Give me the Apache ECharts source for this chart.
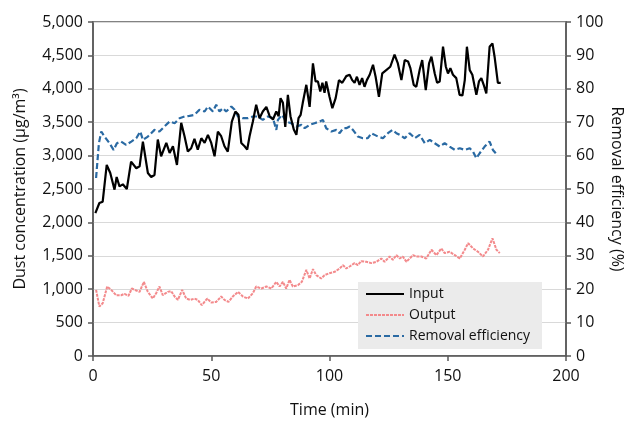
<!DOCTYPE html>
<html>
<head>
<meta charset="utf-8">
<script src="https://cdn.jsdelivr.net/npm/echarts@6/dist/echarts.min.js"></script>
<style>
  html, body { margin: 0; padding: 0; background: #fff; }
  #main { width: 625px; height: 425px; }
</style>
</head>
<body>
<div id="main"></div>
<script>
// time (min) and values
var inputTime = [1,2.7,4.1,5.8,7.3,9.1,10,11.2,12.6,14.3,16.1,18.3,19.7,21.1,23.2,24.6,26,27.4,28.8,31,32.4,33.8,35.5,37.3,38.7,40.1,41.5,42.9,44.3,45.8,47.2,48.6,50,51.4,52.8,54.2,55.6,57,58.7,60.2,61.5,62.7,64.1,65.2,66.2,67.6,69,70.4,71.8,73.3,74.7,76.1,77.5,78.5,79.3,80.3,81.3,82.4,83.5,84.9,86,86.9,87.8,88.7,90.2,91.6,93,94.1,95.1,96.1,97,97.9,98.6,100,101.2,102.6,104,105.4,107.1,108.5,109.6,110.6,111.6,112.7,113.8,114.8,115.8,117,118.4,119.5,120.9,122.3,124,125.7,127.5,128.9,130.4,131.8,133.2,134.2,135.6,136.7,138.1,139.2,140.7,142.1,143.1,144.5,145.5,146.6,148,149.2,150.1,151.1,152.2,153.6,155,156.2,157.2,158.1,159.3,160.4,161.4,162.1,163.2,164.2,165.2,166.3,167.7,168.9,169.8,171.2,172.4];
var inputValues = [2140,2290,2310,2860,2740,2490,2680,2540,2570,2500,2910,2810,2840,3210,2740,2680,2710,3240,2990,3190,3040,3140,2860,3490,3290,3060,3110,3250,3090,3260,3190,3310,3190,2990,3360,3290,3140,3060,3510,3660,3610,3190,3140,3090,3290,3510,3760,3560,3660,3730,3590,3540,3660,3590,3860,3790,3430,3910,3590,3390,3310,3560,3610,3790,4060,3730,4380,4110,4110,3960,4090,3940,4110,3880,3710,3860,4130,4090,4190,4210,4130,4090,4180,4060,4160,4030,4130,4210,4360,4180,3880,4230,4280,4330,4510,4380,4130,4430,4410,4310,4060,4030,4280,4430,3980,4380,4480,4230,4090,4110,4630,4330,4230,4310,4210,4160,3910,3900,4130,4630,4280,4210,4030,3910,4110,4160,4060,3930,4630,4680,4480,4090,4090];

var outputTime = [1.3,2.7,4.1,6,7.7,9.8,11.9,13.3,15,16.4,18.3,19.7,21.5,23.2,25.3,26.7,28.1,29.5,31.6,33.1,34.5,35.9,37.7,39.4,41.2,42.9,44.3,46,48.3,50,52.1,54.2,55.6,57.3,59.1,61.3,63.4,65.5,67.6,69,71.2,73.3,75.4,77.5,78.9,80.3,81.7,83.1,84.5,86.6,88.3,90.2,91.6,93,94.4,96.5,97.9,100,102.2,104.3,105.7,107.1,108.5,110.6,112,113.4,115.6,117.7,119.8,121.9,123.3,125.4,126.8,128.3,129.7,131,132.5,133.9,135.3,136.7,138.8,140.9,143.1,145.2,147.3,148.7,150.8,153,155.1,157.2,158.6,160.7,162.8,164.9,167,168.9,170.6,172];
var outputValues = [990,740,790,1040,990,910,910,930,900,1010,980,960,1110,960,860,940,1040,910,960,970,890,840,990,860,840,860,840,760,860,800,810,890,840,810,890,960,890,860,940,1040,1010,1040,1010,1110,1040,1110,1010,1140,1040,1060,1110,1290,1160,1300,1210,1160,1210,1240,1260,1310,1360,1310,1340,1390,1360,1420,1410,1390,1410,1460,1410,1490,1440,1510,1460,1490,1410,1460,1510,1490,1490,1460,1590,1510,1610,1540,1560,1510,1460,1590,1690,1610,1560,1490,1590,1760,1590,1540];

var effTime = [1.3,2.5,3.5,4.9,7,8.7,10.1,11.9,14,16.2,18.3,20,21.1,23.2,26,28.1,30.2,32.4,34.5,36.6,38.7,40.8,42.9,45,47.2,48.6,50.7,52.1,53.5,54.9,56.3,58.5,59.9,61.3,63.4,65.5,67.6,69.7,71.8,73.9,76.1,77.5,78.2,79.9,81.7,83.8,86,88.1,89.5,91.6,93.7,95.8,97.2,98.6,100.8,102.9,104.3,105.7,107.1,108.5,109.9,112,114.1,116.2,117.7,119.1,120.5,122.6,124.7,126.6,128.3,129.7,131.8,133.9,136,138.1,140.3,142.4,144.5,146.6,148.7,150.8,153,155.1,157.2,159.3,160.7,162.1,163.5,165.6,167.7,169.1,170.3];
var effValues = [53.3,63.7,67.2,65.7,63.7,61.7,63.7,64.2,63.2,64.2,65.2,67.2,64.7,65.7,67.7,67.2,68.7,70.2,69.7,71.2,71.7,71.9,72.2,73.7,73.2,74.7,73.2,75.2,73.2,74.2,73.2,74.7,73.7,71.7,71.2,71.2,71.7,71.7,70.7,71.7,71.2,67.7,70.7,72.2,70.2,69.7,68.7,69.2,68.2,69.2,69.7,70.2,70.7,68.2,67.2,67.7,66.7,68.2,68.2,68.7,67.7,65.7,65.2,65.2,66.7,66.2,65.7,65.2,66.7,67.7,66.7,66.2,65.2,66.7,65.2,66.2,63.7,64.7,63.7,62.7,63.7,62.7,61.7,62.2,61.7,62.2,61.2,59.2,60.7,62.7,64.2,61.7,60.7];

function pairs(t, v) {
  return t.map(function (x, i) { return [x, v[i]]; });
}

var font = '"Open Sans", "Noto Sans", sans-serif';
var axisColor = '#595959';

var chartDom = document.getElementById('main');
var myChart = echarts.init(chartDom);
var option;

option = {
    animation: false,
    textStyle: { fontFamily: font },
    grid: {
        left: 93, right: 59, top: 22, bottom: 69,
        outerBoundsMode: 'none',
        containLabel: false,
        show: true, borderColor: axisColor, borderWidth: 1.5
    },
    legend: {
        orient: 'vertical',
        left: 358, top: 282,
        padding: [5, 12, 6, 7],
        backgroundColor: '#ebebeb',
        itemWidth: 38, itemHeight: 14, itemGap: 7,
        itemStyle: { opacity: 0 },
        textStyle: { fontFamily: font, fontSize: 14, color: '#111' },
        data: ['Input', 'Output', 'Removal efficiency']
    },
    xAxis: {
        type: 'value',
        min: 0, max: 200, interval: 50,
        name: 'Time (min)',
        nameLocation: 'middle',
        nameGap: 46,
        nameMoveOverlap: false,
        nameTextStyle: { fontSize: 16, color: '#111' },
        axisLine: { lineStyle: { color: axisColor, width: 1.5 } },
        axisTick: { show: true, length: 5, lineStyle: { color: axisColor, width: 1.5 } },
        axisLabel: { fontSize: 16, color: '#111', margin: 12 },
        splitLine: { show: false }
    },
    yAxis: [{
        type: 'value',
        min: 0, max: 5000, interval: 500,
        name: 'Dust concentration (μg/m³)',
        nameLocation: 'middle',
        nameGap: 65,
        nameMoveOverlap: false,
        nameTextStyle: { fontSize: 16, color: '#111' },
        axisLine: { show: true, lineStyle: { color: axisColor, width: 1.5 } },
        axisTick: { show: true, length: 5, lineStyle: { color: axisColor, width: 1.5 } },
        axisLabel: {
            fontSize: 16, color: '#111', margin: 10,
            formatter: function (v) { return v.toLocaleString('en-US'); }
        },
        splitLine: { lineStyle: { color: '#d9d9d9', width: 1 } }
    }, {
        type: 'value',
        min: 0, max: 100, interval: 10,
        name: 'Removal efficiency (%)',
        nameLocation: 'middle',
        nameRotate: -90,
        nameGap: 43,
        nameMoveOverlap: false,
        nameTextStyle: { fontSize: 16, color: '#111' },
        axisLine: { show: true, lineStyle: { color: axisColor, width: 1.5 } },
        axisTick: { show: true, length: 5, lineStyle: { color: axisColor, width: 1.5 } },
        axisLabel: { fontSize: 16, color: '#111', margin: 10 },
        splitLine: { show: false }
    }],
    series: [{
        name: 'Input',
        type: 'line',
        symbol: 'none',
        data: pairs(inputTime, inputValues),
        lineStyle: { color: '#000', width: 2.2 },
        itemStyle: { color: '#000' },
        z: 4
    }, {
        name: 'Output',
        type: 'line',
        symbol: 'none',
        data: pairs(outputTime, outputValues),
        lineStyle: { color: '#f38a8c', width: 2, type: [3, 1] },
        itemStyle: { color: '#f38a8c' },
        z: 3
    }, {
        name: 'Removal efficiency',
        type: 'line',
        yAxisIndex: 1,
        symbol: 'none',
        data: pairs(effTime, effValues),
        lineStyle: { color: '#2a6aa3', width: 2.2, type: [6, 3] },
        itemStyle: { color: '#2a6aa3' },
        z: 2
    }]
};

option && myChart.setOption(option);
</script>
</body>
</html>
